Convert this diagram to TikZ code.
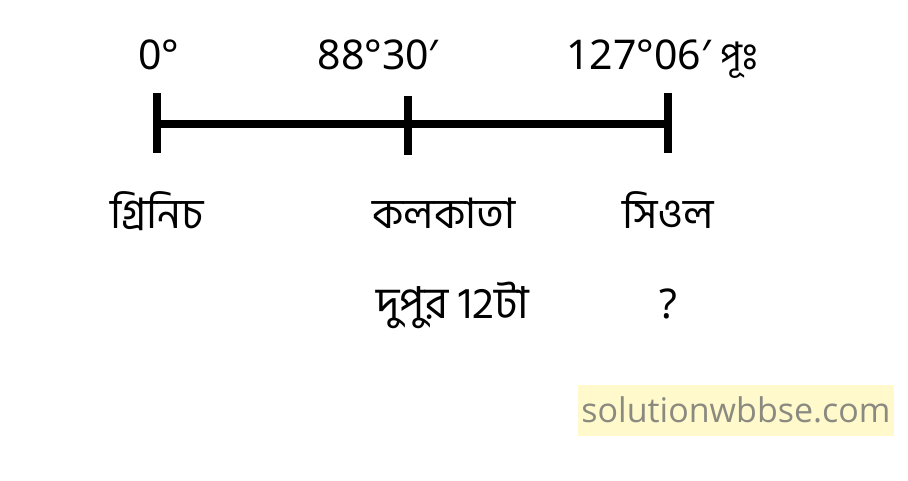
\documentclass[tikz,border=0pt]{standalone}
\usepackage{fontspec}
\setmainfont{Noto Sans}
\newfontfamily\bn[Script=Bengali]{Hind Siliguri}
\newfontfamily\wm{Open Sans}
\definecolor{wmbg}{HTML}{FFF9CC}
\definecolor{wmtext}{HTML}{8A8A80}
\begin{document}
\begin{tikzpicture}[x=1pt,y=-1pt,
  lbl/.style={inner sep=0pt,anchor=base,font=\fontsize{41}{44}\selectfont},
  bnl/.style={inner sep=0pt,anchor=base,font=\bn\fontsize{42}{46}\selectfont},
  bar/.style={line width=8pt},
  tick/.style={line width=8pt}]
\useasboundingbox (0,0) rectangle (908,481);
\fill[white] (0,0) rectangle (908,481);
% axis
\coordinate (g) at (157,124);
\coordinate (k) at (408,124);
\coordinate (s) at (668,124);
\draw[bar] (g) -- (s);
\draw[tick] ([yshift=-29pt]g) -- ([yshift=31pt]g);
\draw[tick] ([yshift=-31pt]k) -- ([yshift=28pt]k);
\draw[tick] ([yshift=-29pt]s) -- ([yshift=31pt]s);
% degree labels
\node[lbl] (d0) at (159,70) {0°};
\node[lbl] (d1) at (378,70) {88°30′};
\node[lbl,anchor=base west] (d2) at (566,70) {127°06′};
\node[bnl,anchor=base west,font=\bn\fontsize{38}{42}\selectfont] (d2e) at (720,70) {পূঃ};
% place names
\node[bnl] (n0) at (157,229) {গ্রিনিচ};
\node[bnl] (n1) at (444,229) {কলকাতা};
\node[bnl] (n2) at (668,229) {সিওল};
% times
\node[bnl,font=\bn\fontsize{44}{48}\selectfont] (t1) at (453,318) {দুপুর 12টা};
\node[lbl] (t2) at (668,318) {?};
% watermark
\fill[wmbg] (578,385) rectangle (894,436);
\node[inner sep=0pt,anchor=base,font=\wm\fontsize{34}{36}\selectfont,text=wmtext] (w) at (736,422) {solutionwbbse.com};
\end{tikzpicture}
\end{document}
